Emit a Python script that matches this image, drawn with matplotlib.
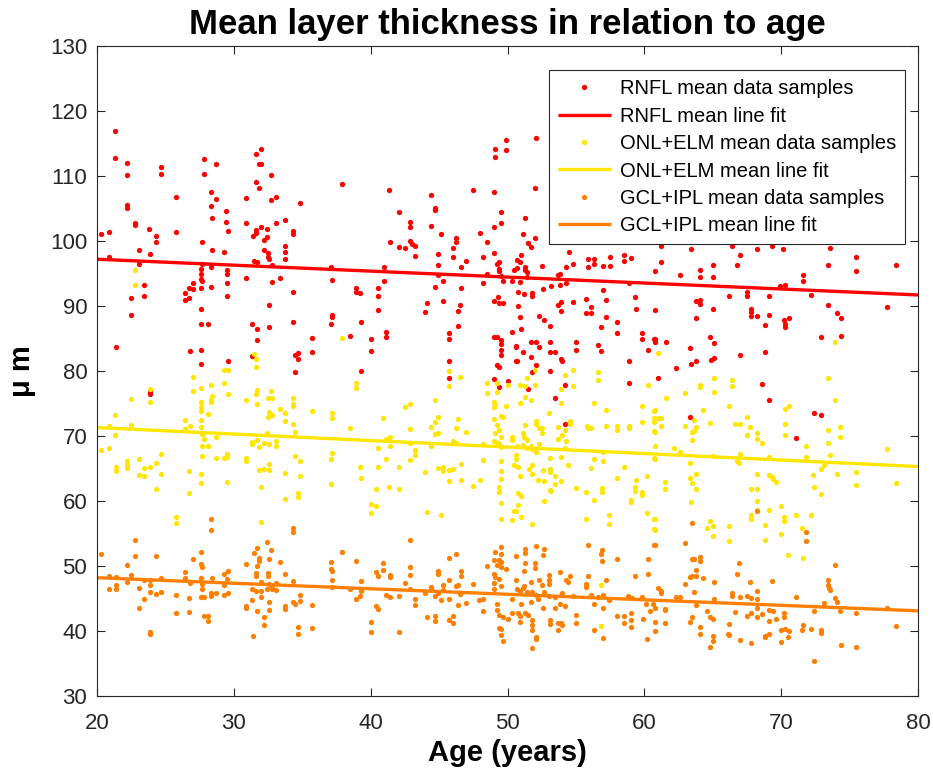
import numpy as np
import matplotlib
matplotlib.use("Agg")
import matplotlib.pyplot as plt

# ---- data (age in years, thickness in micrometres) ----
rnfl_points = [
(21.3,116.9),(21.3,112.8),(22.2,112.0),(22.2,110.1),(24.7,111.4),(24.7,110.3),(25.8,106.8),(22.2,105.5),(22.2,105.1),(22.8,102.7),(22.8,102.4),(20.3,101.1),(20.9,101.4),(23.8,101.8),(24.3,100.8),(24.3,99.9),(25.8,101.4),(27.8,112.6),(27.8,110.3),(28.7,111.8),(28.3,107.5),(28.7,106.4),(28.3,105.4),(28.4,103.5),(29.4,104.6),(29.4,102.9),(29.6,101.6),(27.7,99.8),(28.4,98.6),(29.3,98.3),(20.9,97.6),(23.1,98.6),(23.9,98.0),(23.1,96.5),(27.7,96.5),(27.6,95.7),(27.6,94.9),(27.6,94.2),(27.7,93.8),(29.5,95.5),(29.5,95.0),(29.5,93.5),(28.3,96.0),(28.3,92.9),(27.0,93.6),(26.7,92.8),(27.0,92.6),(26.4,92.0),(26.4,91.0),(26.7,91.2),(27.6,92.7),(23.4,93.3),(22.5,91.3),(23.4,91.6),(22.5,88.6),(27.6,89.5),(27.6,87.2),(28.1,87.3),(21.4,83.7),(26.8,83.1),(27.6,83.2),(27.6,81.1),(29.6,81.6),(29.5,91.6),(23.9,76.8),(23.9,76.5),
(32.0,114.2),(31.6,113.4),(31.8,111.8),(32.0,111.8),(32.7,110.1),(31.6,109.1),(31.8,108.1),(30.9,106.6),(32.7,106.3),(33.1,106.8),(34.8,105.8),(37.9,108.8),(30.9,102.8),(31.6,101.7),(31.6,101.2),(31.4,100.7),(32.0,102.2),(32.4,101.8),(33.1,102.8),(33.7,103.2),(34.3,101.5),(34.3,101.1),(32.2,100.2),(32.4,100.6),(33.7,99.3),(33.7,98.3),(33.7,97.2),(32.2,98.6),(32.5,98.1),(32.5,97.5),(32.6,97.2),(31.5,96.9),(31.7,96.7),(32.8,96.3),(37.1,96.0),(30.9,94.3),(32.8,93.7),(33.4,94.3),(34.3,92.2),(37.2,94.0),(38.9,92.7),(38.9,92.1),(39.2,92.0),(32.6,90.2),(37.2,88.6),(37.2,88.3),(37.1,87.3),(39.3,87.5),(31.3,87.3),(31.7,86.5),(32.6,86.7),(34.3,87.5),(31.7,84.7),(35.7,85.1),(38.5,85.4),(40.0,85.0),(40.0,83.1),(31.3,82.3),(34.5,82.5),(34.7,82.7),(34.7,81.8),(35.7,82.9),(34.5,79.9),(39.3,80.0),
(49.9,115.5),(49.1,114.2),(49.9,114.0),(49.1,112.9),(41.3,107.9),(44.4,107.1),(47.5,107.9),(49.0,107.6),(44.7,105.1),(44.7,104.7),(42.1,104.4),(42.9,102.9),(42.9,102.2),(49.5,104.5),(49.5,102.8),(49.0,102.2),(44.4,102.3),(45.1,101.1),(46.2,100.4),(46.2,99.9),(48.0,101.2),(48.5,99.8),(41.4,99.8),(42.1,99.1),(42.5,99.0),(42.9,100.0),(43.0,99.6),(43.2,99.3),(43.2,97.7),(46.0,99.0),(46.0,97.5),(44.9,98.0),(44.9,96.3),(47.0,96.9),(46.6,96.0),(48.2,97.6),(49.0,98.1),(49.2,96.5),(49.4,96.8),(49.4,95.7),(49.4,95.4),(48.5,95.0),(49.5,94.6),(49.7,93.8),(50.3,93.8),(50.5,95.6),(41.0,96.0),(41.0,93.8),(40.5,92.7),(40.5,91.6),(40.5,89.4),(44.7,93.0),(45.3,93.9),(44.9,94.7),(48.2,93.5),(46.6,92.7),(44.1,90.5),(44.0,89.1),(45.3,90.8),(46.5,90.1),(46.4,89.3),(46.4,86.9),(49.0,90.8),(49.3,91.4),(49.4,90.4),(49.7,90.5),(41.1,86.0),(41.1,85.3),(45.7,85.9),(45.7,85.0),(45.7,81.6),(49.0,85.2),(49.2,85.3),(49.5,84.7),(49.5,84.2),(49.5,83.2),(49.5,82.5),(49.2,80.9),(49.4,80.6),(50.3,86.0),(50.6,83.8),(50.6,81.6),(45.7,78.9),(49.0,78.8),(49.4,77.5),(50.0,78.5),
(52.1,115.8),(52.0,108.1),(51.3,103.6),(51.1,101.1),(52.0,100.5),(51.5,99.7),(51.7,99.1),(51.0,97.8),(50.9,96.8),(51.3,96.0),(51.3,95.6),(51.4,95.3),(50.7,97.1),(50.7,95.8),(50.9,93.7),(51.4,94.4),(52.5,96.2),(54.5,98.3),(54.3,96.0),(54.8,96.5),(55.9,97.2),(56.3,97.2),(56.3,96.5),(55.9,96.0),(57.0,96.2),(57.5,97.6),(57.5,96.2),(58.5,97.8),(58.5,96.9),(59.0,97.4),(53.7,94.7),(53.8,94.9),(53.2,93.1),(53.8,93.2),(54.3,93.5),(52.6,92.6),(50.8,92.1),(51.2,91.8),(51.8,92.0),(51.8,91.5),(57.0,92.4),(57.2,91.0),(55.7,91.1),(58.9,93.5),(59.3,91.4),(59.4,89.6),(50.8,90.0),(53.7,90.2),(53.9,90.6),(53.9,89.3),(54.8,90.6),(56.1,89.9),(55.7,89.0),(56.1,89.0),(57.2,88.3),(58.0,87.6),(50.9,88.3),(51.0,86.4),(52.3,88.4),(52.7,87.8),(53.1,86.9),(56.8,86.7),(58.0,85.8),(59.8,85.9),(59.8,84.9),(50.6,83.7),(51.7,84.5),(52.1,84.5),(52.3,83.7),(53.1,84.4),(53.1,82.9),(53.5,83.0),(55.0,84.4),(55.0,83.2),(56.6,84.0),(56.8,83.1),(51.1,82.9),(51.7,82.1),(50.7,81.5),(53.9,81.8),(54.0,81.5),(52.1,80.9),(51.8,79.9),(53.1,80.0),(58.9,81.6),(58.9,78.1),(54.2,77.9),(51.5,77.3),(53.5,75.9),(60.3,83.2),(60.7,85.0),(54.2,71.9),
(61.2,99.2),(61.2,96.8),(60.8,95.4),(63.4,98.7),(66.4,99.3),(67.0,97.9),(68.2,98.7),(69.3,99.3),(70.1,98.8),(66.8,96.3),(65.0,96.3),(64.1,95.5),(64.1,94.4),(65.0,94.5),(62.6,94.7),(66.2,91.6),(67.5,92.2),(67.5,91.6),(69.1,91.6),(69.9,93.1),(70.3,93.2),(63.8,90.7),(64.1,90.9),(64.1,90.3),(65.0,89.5),(60.8,89.4),(67.8,89.6),(67.8,89.1),(67.8,88.5),(68.2,88.5),(69.1,88.6),(68.8,87.1),(70.2,87.8),(70.6,88.2),(70.3,87.3),(70.3,86.7),(63.8,88.2),(64.8,85.3),(65.1,84.3),(60.8,84.9),(60.8,84.4),(61.6,84.4),(63.3,83.6),(65.1,82.0),(64.9,81.7),(63.8,81.6),(63.4,81.1),(62.3,80.5),(67.0,82.5),(68.8,82.9),(68.6,78.0),(69.1,75.5),(61.0,78.9),(63.3,73.0),(71.1,69.7),
(73.6,98.9),(75.5,97.5),(73.4,96.3),(75.5,95.4),(78.4,96.3),(71.6,94.7),(71.6,93.9),(72.2,91.7),(73.4,90.1),(77.7,89.9),(74.1,88.9),(74.4,88.2),(72.9,85.3),(74.4,85.4),(72.4,73.6),(72.9,73.2),
]

onl_points = [
(22.8,95.5),(22.8,93.3),(23.9,77.3),(23.9,75.3),(22.5,75.7),(21.3,73.3),(20.9,71.5),(22.5,71.7),(21.3,70.1),(20.3,67.9),(20.9,68.1),(22.2,66.2),(22.2,65.6),(22.2,65.1),(21.4,65.3),(21.4,64.6),(23.1,66.5),(23.4,65.1),(23.9,65.2),(24.3,65.8),(24.7,67.2),(23.1,64.0),(23.4,63.8),(24.7,64.1),(24.3,61.9),(25.8,57.6),(25.8,56.6),(27.0,79.1),(27.0,77.0),(27.6,77.4),(28.3,77.8),(29.3,80.1),(29.6,80.1),(29.3,78.2),(29.6,76.5),(28.3,75.5),(28.4,76.1),(28.3,75.3),(27.6,75.2),(27.6,74.5),(27.6,73.8),(28.1,73.4),(26.4,72.4),(26.8,71.6),(26.4,71.1),(27.6,72.4),(27.6,71.4),(27.7,70.3),(27.8,69.5),(28.7,69.8),(27.7,68.4),(28.1,68.5),(27.7,66.9),(28.7,66.6),(29.3,66.6),(29.5,67.2),(29.5,66.8),(26.7,64.6),(27.6,64.1),(27.6,62.7),(26.7,61.2),(29.5,62.9),
(37.9,85.1),(31.5,82.6),(31.6,81.9),(31.6,80.6),(31.7,77.1),(31.6,76.4),(30.9,75.5),(31.7,75.0),(32.7,76.9),(32.5,75.9),(32.8,75.8),(34.3,75.9),(34.3,74.9),(34.3,74.6),(32.6,73.7),(32.8,73.2),(32.5,72.9),(33.4,74.1),(33.7,73.5),(33.7,72.3),(34.3,71.8),(35.7,73.9),(37.2,73.6),(37.2,72.7),(38.5,71.3),(38.9,78.1),(38.9,77.4),(34.5,70.6),(32.4,70.4),(31.7,69.4),(31.3,69.1),(31.3,68.8),(31.8,68.3),(32.2,68.9),(32.6,68.8),(33.1,69.3),(33.1,68.5),(30.9,66.6),(30.9,66.2),(34.5,67.0),(34.8,66.2),(37.2,67.4),(37.1,66.5),(31.8,64.7),(32.2,64.9),(32.6,65.7),(32.6,64.8),(33.7,64.3),(34.8,63.9),(32.0,62.2),(33.7,60.3),(34.7,61.2),(34.7,60.6),(37.1,62.6),(39.2,65.2),(39.3,63.5),(40.0,59.6),(40.0,58.1),(32.0,56.8),
(45.7,80.0),(45.7,77.7),(46.5,79.1),(48.5,78.2),(48.5,76.6),(49.2,78.1),(49.2,76.7),(50.0,77.8),(44.7,75.5),(42.9,74.9),(42.5,74.4),(49.0,75.3),(49.1,74.9),(49.0,74.4),(49.9,74.6),(40.9,72.8),(44.9,72.9),(44.7,72.1),(44.4,71.4),(44.7,70.3),(44.9,70.5),(42.9,71.1),(46.4,72.6),(46.2,71.3),(47.0,70.6),(49.0,72.6),(49.5,73.1),(49.7,73.0),(49.2,71.7),(49.4,71.0),(49.1,70.5),(49.5,69.8),(50.3,69.9),(50.3,69.4),(41.1,69.6),(41.4,69.8),(42.9,68.9),(46.0,69.3),(46.2,69.0),(48.2,68.8),(49.0,69.2),(49.3,68.9),(49.4,68.7),(49.5,68.3),(40.5,68.2),(41.4,68.4),(43.2,67.9),(43.2,67.1),(44.4,68.5),(41.1,66.5),(42.9,66.3),(48.2,66.3),(49.5,66.1),(50.5,65.6),(40.5,65.3),(42.1,65.2),(44.0,64.5),(44.9,65.1),(45.3,65.3),(45.3,64.6),(45.7,64.7),(46.0,65.0),(46.6,65.7),(49.5,64.6),(49.5,63.4),(45.7,63.1),(46.6,63.2),(48.0,63.3),(47.5,62.3),(49.4,62.2),(49.4,61.4),(40.4,61.9),(41.3,62.1),(42.1,61.9),(40.4,59.3),(49.5,59.7),(44.1,58.3),(45.1,57.9),(49.5,57.3),(50.3,57.1),(50.5,58.5),
(52.0,80.2),(51.4,78.9),(50.9,77.8),(51.3,77.7),(52.0,77.9),(54.2,79.4),(54.8,80.1),(54.8,77.7),(53.9,77.3),(56.6,79.9),(56.6,78.6),(60.3,77.8),(50.9,75.1),(51.3,76.0),(51.7,75.5),(53.9,75.1),(56.3,75.1),(59.8,74.6),(53.0,73.5),(57.2,74.0),(60.7,73.9),(51.3,71.7),(52.1,72.3),(52.1,71.9),(52.3,71.2),(52.5,71.2),(52.5,70.5),(53.7,71.4),(54.2,70.9),(54.6,72.3),(54.6,71.9),(55.9,71.3),(56.1,71.3),(55.8,71.6),(57.2,71.6),(58.0,71.6),(58.0,71.0),(58.9,71.5),(58.9,71.2),(59.8,72.2),(60.7,72.7),(60.7,72.1),(60.7,70.7),(51.1,70.4),(51.2,69.8),(51.4,69.4),(51.1,68.6),(50.7,68.4),(51.4,68.1),(51.7,68.4),(52.1,67.5),(51.8,68.0),(52.3,68.7),(53.7,69.5),(54.0,70.2),(54.3,69.2),(54.2,68.1),(53.9,66.8),(53.1,66.6),(50.6,67.1),(50.6,66.4),(50.8,65.3),(50.9,63.9),(51.6,64.9),(51.8,65.5),(51.8,64.2),(52.2,63.2),(52.6,64.8),(53.1,65.0),(53.1,64.5),(52.7,63.1),(53.5,63.9),(53.5,62.6),(53.9,63.1),(54.4,65.5),(56.3,66.4),(56.1,65.1),(57.0,67.6),(57.0,66.2),(58.5,65.3),(58.0,63.5),(59.4,63.3),(60.2,63.9),(60.7,66.6),(55.0,62.0),(55.7,61.4),(56.9,62.0),(56.9,61.4),(59.3,62.2),(59.3,61.6),(59.8,61.4),(59.8,60.9),(59.0,60.2),(59.0,59.9),(56.3,60.1),(53.1,61.7),(53.2,61.5),(52.7,60.0),(50.8,61.2),(51.0,60.8),(50.8,59.4),(50.6,58.5),(51.0,57.6),(51.8,56.4),(55.7,57.3),(57.4,57.8),(57.4,56.4),(60.2,58.1),(60.7,57.2),(60.7,55.7),(56.8,47.1),(56.8,40.7),
(61.0,82.8),(65.1,79.0),(64.1,77.9),(64.1,77.5),(65.1,76.8),(66.4,78.6),(66.4,77.7),(63.0,76.6),(61.6,75.9),(66.2,74.6),(64.3,74.0),(60.8,74.0),(61.0,72.8),(61.2,72.7),(61.2,71.6),(60.8,70.6),(63.6,72.5),(63.8,71.4),(63.0,71.6),(63.5,70.6),(63.6,70.7),(63.5,69.4),(64.8,72.0),(66.6,71.9),(67.0,71.9),(67.5,73.0),(67.7,71.4),(67.5,70.2),(68.2,70.5),(68.2,69.6),(68.6,69.0),(70.3,74.1),(70.6,74.6),(70.3,71.8),(70.3,70.2),(60.8,68.5),(60.8,66.5),(62.2,68.2),(62.6,67.5),(65.0,66.9),(67.0,67.3),(66.8,66.2),(66.9,65.8),(69.1,66.8),(63.3,65.8),(63.3,63.6),(63.8,64.2),(63.5,62.7),(63.8,61.9),(61.5,63.0),(61.5,61.8),(63.4,59.9),(68.2,64.2),(69.1,64.0),(69.3,63.7),(69.4,63.4),(69.6,63.0),(67.8,61.8),(68.2,61.9),(68.2,60.0),(68.2,58.6),(67.8,57.8),(67.8,57.2),(69.1,58.6),(70.0,59.3),(70.2,57.6),(70.2,57.0),(68.8,56.3),(70.0,55.0),(68.8,54.0),(64.8,56.9),(64.6,55.8),(65.0,56.1),(65.0,54.6),(66.2,56.2),(66.2,53.8),(60.8,57.2),(60.8,55.6),(70.5,51.7),
(73.9,84.4),(73.4,79.0),(73.9,75.6),(73.4,71.0),(74.3,71.4),(74.3,69.9),(73.4,68.9),(71.8,68.4),(71.8,66.8),(73.6,67.1),(77.7,68.0),(73.1,65.5),(72.9,65.0),(72.3,64.0),(74.1,64.2),(75.5,64.4),(75.5,62.4),(78.4,62.7),(72.4,62.1),(72.9,61.1),(71.1,57.8),(72.2,57.8),(71.5,55.8),(71.6,51.2),
]

gcl_points = [
(20.3,51.8),(22.8,54.0),(22.8,51.6),(24.3,51.5),(22.2,50.2),(20.9,48.5),(21.4,48.3),(22.5,48.6),(22.2,47.5),(23.4,47.8),(23.9,47.8),(24.7,48.2),(20.9,46.4),(21.4,47.0),(21.4,46.5),(23.1,46.6),(23.9,47.0),(23.9,46.0),(24.3,45.7),(24.7,46.0),(23.4,44.9),(23.1,43.5),(23.9,39.9),(23.9,39.6),(25.8,45.5),(25.8,42.8),(26.7,45.0),(26.7,42.9),(26.4,49.1),(26.4,48.1),(26.8,47.4),(27.0,51.0),(27.6,52.1),(27.6,50.3),(27.7,49.9),(27.6,48.1),(27.7,47.3),(27.7,46.5),(27.6,45.2),(27.8,45.3),(28.3,57.3),(28.3,55.5),(28.4,48.2),(28.3,45.8),(28.3,45.4),(28.7,45.8),(29.3,48.7),(29.6,49.3),(29.5,48.0),(29.3,47.0),(29.3,45.6),(29.6,45.9),(27.8,42.3),(28.1,42.3),(28.1,41.5),
(34.3,55.9),(34.3,55.2),(32.4,53.7),(31.7,52.7),(32.7,52.5),(31.5,52.0),(31.8,51.2),(31.8,50.8),(32.6,51.1),(30.9,50.3),(31.7,50.0),(33.4,50.6),(31.6,48.9),(31.6,48.4),(32.5,48.9),(32.5,48.5),(33.7,48.7),(32.0,47.5),(32.6,47.2),(32.8,46.9),(33.1,47.4),(34.3,47.7),(31.3,46.5),(31.6,46.2),(32.0,46.1),(32.4,46.5),(32.8,46.5),(33.1,46.3),(32.0,45.3),(31.3,44.8),(32.6,44.4),(30.9,43.9),(30.9,43.5),(31.7,43.1),(32.6,43.3),(33.7,43.9),(33.7,43.4),(34.3,44.4),(34.5,44.1),(34.8,44.6),(34.8,45.5),(32.2,42.2),(32.2,40.9),(31.4,39.3),(34.7,40.6),(34.7,39.6),(35.7,44.0),(35.7,40.5),(37.1,50.6),(37.1,49.5),(37.2,49.2),(37.2,47.8),(37.2,46.8),(37.9,52.1),(38.9,50.7),(39.3,47.7),(38.5,46.4),(39.3,46.1),(39.2,45.4),(38.9,44.9),(40.0,41.4),(40.0,39.8),
(42.9,54.0),(46.2,51.9),(45.7,51.2),(49.1,52.2),(49.5,52.9),(49.5,51.9),(49.0,50.9),(49.4,50.9),(49.5,50.6),(49.2,50.2),(49.5,49.8),(49.9,49.6),(48.5,50.0),(40.9,50.4),(40.9,49.4),(42.9,49.9),(40.4,49.0),(40.5,48.4),(41.4,48.6),(41.4,48.3),(42.9,48.6),(44.9,49.3),(44.9,48.7),(46.6,49.2),(46.6,48.4),(49.0,48.7),(49.4,48.0),(49.1,48.3),(45.7,47.9),(42.5,47.4),(47.5,47.2),(49.0,47.4),(49.5,46.9),(42.9,46.5),(44.4,46.7),(45.3,47.0),(46.2,46.9),(46.4,47.0),(49.0,46.4),(41.1,45.6),(41.4,45.2),(42.1,45.4),(44.0,45.8),(44.4,46.3),(44.7,45.4),(44.9,45.8),(45.3,46.3),(45.1,44.8),(45.7,44.9),(46.5,45.7),(47.9,44.8),(48.2,44.9),(50.3,44.9),(43.2,44.9),(43.2,44.0),(46.4,44.0),(47.0,44.3),(49.2,44.2),(40.4,43.8),(40.5,43.4),(48.2,43.1),(49.2,43.2),(49.4,42.5),(49.7,42.2),(50.0,41.8),(50.3,42.7),(44.1,42.2),(44.7,42.3),(44.7,41.6),(46.0,42.3),(45.7,41.7),(46.0,41.3),(42.1,39.8),(49.4,40.5),(49.5,40.3),(49.5,39.4),(49.7,38.5),
(55.9,53.3),(51.3,52.6),(51.3,52.0),(52.1,53.0),(52.7,52.6),(52.6,51.7),(50.6,51.6),(51.3,50.4),(52.0,50.4),(52.0,49.7),(51.2,49.2),(53.0,48.6),(53.0,47.9),(53.8,49.0),(54.6,48.4),(54.3,47.8),(54.4,47.6),(55.9,48.5),(55.7,47.2),(55.7,46.7),(56.9,52.5),(56.8,51.9),(56.9,50.7),(58.0,51.1),(57.2,47.9),(59.3,48.4),(60.3,51.1),(60.3,48.8),(60.7,53.2),(50.6,47.8),(51.7,47.5),(52.3,47.8),(52.5,47.0),(53.0,47.2),(50.7,46.4),(50.9,46.1),(51.1,46.6),(51.2,46.9),(51.4,46.0),(51.8,46.0),(52.1,45.6),(52.7,46.0),(53.0,45.4),(53.5,45.3),(54.0,45.8),(54.8,45.4),(56.1,45.6),(56.6,45.3),(57.0,45.6),(57.4,44.8),(58.8,45.4),(59.1,45.0),(59.8,45.3),(60.1,44.2),(60.6,44.2),(51.0,44.1),(51.7,44.5),(52.2,44.9),(52.6,43.5),(53.5,43.5),(53.8,44.2),(54.2,43.9),(56.3,44.2),(57.0,43.5),(50.8,42.7),(50.9,42.3),(51.3,42.7),(51.5,42.5),(50.9,41.4),(51.8,41.7),(51.8,40.9),(51.8,40.2),(52.1,39.1),(52.1,38.7),(51.8,37.4),(53.1,41.7),(53.1,41.1),(53.7,41.3),(53.9,41.3),(54.0,40.9),(53.7,40.2),(55.0,42.5),(55.0,41.3),(56.3,40.2),(57.0,38.9),(58.0,42.3),(58.5,42.3),(59.0,42.7),(59.0,41.7),(58.5,41.3),(59.0,40.6),(59.9,41.9),(60.2,38.7),(60.4,43.0),
(63.5,56.6),(60.8,53.2),(63.0,53.5),(63.5,51.0),(63.6,51.0),(64.1,51.4),(64.1,50.8),(63.8,49.4),(63.3,48.3),(63.5,48.4),(63.8,48.4),(64.3,48.1),(63.0,47.3),(65.1,47.5),(66.9,50.5),(66.8,48.7),(67.7,47.5),(69.3,47.7),(68.2,58.5),(61.0,46.6),(61.2,46.1),(61.2,45.8),(62.3,45.3),(62.6,45.3),(63.6,46.0),(65.1,44.9),(63.8,44.0),(66.4,45.9),(66.4,45.4),(67.0,45.3),(67.5,45.4),(67.8,45.0),(68.2,46.1),(68.2,44.9),(61.5,43.4),(61.5,43.2),(60.8,43.6),(64.6,43.1),(64.8,42.2),(65.0,41.8),(63.5,42.2),(63.3,41.4),(66.6,42.9),(68.2,43.5),(67.8,42.8),(67.5,42.3),(68.2,42.2),(68.6,42.6),(69.1,43.2),(69.4,43.0),(70.2,42.7),(70.2,42.1),(69.6,41.8),(69.1,41.5),(60.8,41.4),(60.8,40.0),(61.5,41.2),(64.1,40.6),(64.1,39.6),(66.2,41.0),(66.1,39.6),(66.2,39.4),(65.0,39.3),(65.0,38.5),(64.8,37.5),(67.0,38.6),(67.8,38.1),(68.8,39.2),(68.8,39.0),(69.1,39.6),(70.0,40.2),(70.3,40.3),(70.6,40.0),(70.5,39.0),(70.0,38.3),
(71.8,55.3),(71.8,53.9),(73.9,50.2),(73.4,47.9),(73.4,47.0),(73.5,46.6),(73.6,46.3),(71.1,45.3),(73.9,45.1),(73.1,44.3),(74.1,44.4),(72.4,43.1),(74.3,43.1),(75.5,42.7),(77.7,43.5),(71.6,40.9),(71.5,40.2),(72.2,40.3),(72.9,40.1),(72.9,39.7),(78.4,40.8),(74.4,37.9),(75.5,37.6),(72.4,35.4),
]

# linear fits (values at the ends of the age range)
fit_age = [20, 80]
rnfl_fit = [97.2, 91.7]
onl_fit = [71.3, 65.3]
gcl_fit = [48.2, 43.1]

labels = ["RNFL mean data samples", "RNFL mean line fit",
          "ONL+ELM mean data samples", "ONL+ELM mean line fit",
          "GCL+IPL mean data samples", "GCL+IPL mean line fit"]
x_ticks = [20, 30, 40, 50, 60, 70, 80]
y_ticks = [30, 40, 50, 60, 70, 80, 90, 100, 110, 120, 130]

# ---- style ----
plt.rcParams['font.family'] = ['Liberation Sans', 'DejaVu Sans']
RED = '#ff0000'
YEL = '#ffe600'
ORA = '#ff8000'

fig = plt.figure(figsize=(9.33, 7.8), dpi=100)
ax = fig.add_axes([0.104, 0.1077, 0.880, 0.8333])

ms = 3.8
lw = 2.4
series = [(rnfl_points, rnfl_fit, RED), (onl_points, onl_fit, YEL), (gcl_points, gcl_fit, ORA)]
handles = []
for pts, fit, col in series:
    arr = np.array(pts)
    h1, = ax.plot(arr[:, 0], arr[:, 1], linestyle='none', marker='o', ms=ms,
                  mfc=col, mec='none', color=col)
    h2, = ax.plot(fit_age, fit, color=col, lw=lw, solid_capstyle='butt')
    handles += [h1, h2]

ax.set_xlim(20, 80)
ax.set_ylim(30, 130)
ax.set_xticks(x_ticks)
ax.set_yticks(y_ticks)
ax.tick_params(direction='in', top=True, right=True, labelsize=16, length=6,
               width=0.8, colors='#262626', labelcolor='#262626')
ax.tick_params(axis='x', pad=12)
ax.tick_params(axis='y', pad=7)
for s in ax.spines.values():
    s.set_color('#262626')
    s.set_linewidth(0.8)

ax.set_title("Mean layer thickness in relation to age", fontsize=25, fontweight='bold', pad=9)
ax.set_xlabel("Age (years)", fontsize=21, fontweight='bold', labelpad=4)
ax.set_ylabel("μ m", fontsize=21, fontweight='bold', labelpad=10)

leg = ax.legend(handles, labels, loc='upper right', bbox_to_anchor=(0.984, 0.963),
                fontsize=14.5, frameon=True, fancybox=False, framealpha=1,
                edgecolor='#262626', handlelength=2.6, handletextpad=0.45,
                borderpad=0.45, labelspacing=0.42, borderaxespad=0.0)
leg.get_frame().set_linewidth(0.8)

fig.savefig("out.png", dpi=100)
